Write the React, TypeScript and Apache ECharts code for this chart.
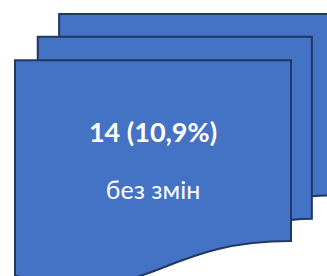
import React, { useEffect, useRef } from "react";
import * as echarts from "echarts";

// Data shown on the card
const countValues = [14];
const shareValues = ["10,9%"];
const captionTexts = ["без змін"];

// Multi-document outline in 21600-unit space (OOXML flowChartMultidocument)
const backSheet: [string, number[]][] = [
  ["M", [2972, 0]], ["L", [21600, 0]], ["L", [21600, 14392]],
  ["C", [20800, 14392, 20000, 14467, 20000, 14467]], ["L", [2972, 14467]], ["Z", []],
];
const middleSheet: [string, number[]][] = [
  ["M", [1532, 1815]], ["L", [20000, 1815]], ["L", [20000, 16252]],
  ["C", [19298, 16252, 18595, 16352, 18595, 16352]], ["L", [1532, 16352]], ["Z", []],
];
const frontSheet: [string, number[]][] = [
  ["M", [0, 3675]], ["L", [18595, 3675]], ["L", [18595, 18022]],
  ["C", [9298, 18022, 9298, 23542, 0, 20782]], ["Z", []],
];

const OX = 15, OY = 14, SX = 276 / 18595, SY = 227 / 18022;

function toD(cmds: [string, number[]][]) {
  return cmds
    .map(([c, p]) => {
      const pts: string[] = [];
      for (let i = 0; i < p.length; i += 2) {
        pts.push((OX + p[i] * SX).toFixed(2) + "," + (OY + p[i + 1] * SY).toFixed(2));
      }
      return c + pts.join(" ");
    })
    .join(" ");
}

let registered = false;
function registerShapes() {
  if (registered) return;
  registered = true;
  echarts.graphic.registerShape("sheetBack", echarts.graphic.extendPath(toD(backSheet), {}) as any);
  echarts.graphic.registerShape("sheetMiddle", echarts.graphic.extendPath(toD(middleSheet), {}) as any);
  echarts.graphic.registerShape("sheetFront", echarts.graphic.extendPath(toD(frontSheet), {}) as any);
}

export default function App() {
  const ref = useRef<HTMLDivElement>(null);
  useEffect(() => {
    if (!ref.current) return;
    registerShapes();
    const chart = echarts.init(ref.current, null, { renderer: "svg" });
    const sheetStyle = { fill: "#4472C4", stroke: "#1F3864", lineWidth: 2 };
    const cx = OX + (18595 * SX) / 2;
    chart.setOption({
      animation: false,
      graphic: [
        { type: "sheetBack", x: 0, y: 0, style: sheetStyle },
        { type: "sheetMiddle", x: 0, y: 0, style: sheetStyle },
        { type: "sheetFront", x: 0, y: 0, style: sheetStyle },
        {
          type: "text",
          x: cx,
          y: 131,
          style: {
            text: `${countValues[0]} (${shareValues[0]})`,
            fill: "#ffffff",
            font: "bold 27px Lato",
            align: "center",
            verticalAlign: "middle",
          },
        },
        {
          type: "text",
          x: cx,
          y: 189,
          style: {
            text: captionTexts[0],
            fill: "#ffffff",
            font: "25px Lato",
            align: "center",
            verticalAlign: "middle",
          },
        },
      ],
    });
    return () => chart.dispose();
  }, []);
  return (
    <div
      ref={ref}
      style={{ position: "absolute", left: 0, top: 0, width: 327, height: 276, background: "#ffffff" }}
    />
  );
}
